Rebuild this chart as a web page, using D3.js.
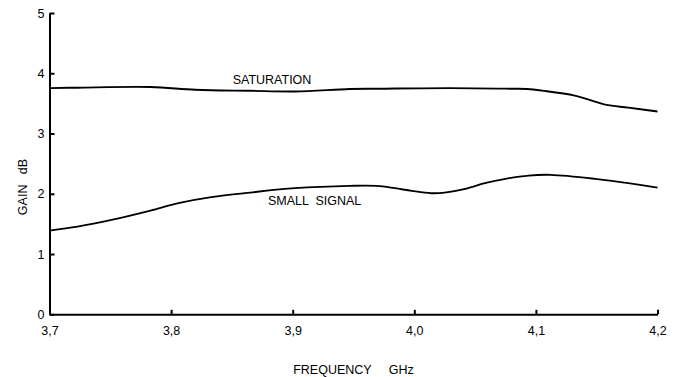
<!DOCTYPE html>
<html>
<head>
<meta charset="utf-8">
<script src="https://cdn.jsdelivr.net/npm/d3@7"></script>
<style>
  html, body { margin: 0; padding: 0; background: #fff; }
  svg { display: block; font-family: "Liberation Sans", Arial, sans-serif; }
  .axis path, .axis line { stroke: #000; stroke-width: 2; }
  .axis text { font-size: 12.5px; fill: #000; }
</style>
</head>
<body>
<svg id="chart" width="678" height="377"></svg>
<script>
// Gain versus frequency for the amplifier, two operating conditions.
const satFreq  = [3.700, 3.723, 3.783, 3.820, 3.865, 3.902, 3.947, 3.970, 4.029, 4.080, 4.093, 4.105, 4.132, 4.157, 4.176, 4.200];
const satGain  = [3.754, 3.760, 3.771, 3.726, 3.709, 3.698, 3.738, 3.743, 3.754, 3.743, 3.738, 3.712, 3.630, 3.480, 3.430, 3.365];

const smallFreq = [3.700, 3.723, 3.751, 3.783, 3.806, 3.833, 3.865, 3.902, 3.947, 3.969, 3.984, 3.998, 4.014, 4.025, 4.042, 4.058, 4.075, 4.094, 4.112, 4.149, 4.176, 4.200];
const smallGain = [1.389, 1.455, 1.566, 1.721, 1.844, 1.944, 2.020, 2.093, 2.131, 2.131, 2.093, 2.048, 2.010, 2.020, 2.081, 2.176, 2.248, 2.302, 2.314, 2.248, 2.176, 2.103];

const xTicks = [3.7, 3.8, 3.9, 4.0, 4.1, 4.2];
const xTickLabels = ["3,7", "3,8", "3,9", "4,0", "4,1", "4,2"];
const yTicks = [0, 1, 2, 3, 4, 5];

const svg = d3.select("#chart");
const margin = { left: 49.5, right: 20.5, top: 13, bottom: 62.7 };
const W = 678, H = 377;

const x = d3.scaleLinear().domain([3.7, 4.2]).range([margin.left, W - margin.right]);
const y = d3.scaleLinear().domain([0, 5]).range([H - margin.bottom, margin.top]);

// axes with ticks pointing into the plot
svg.append("g")
  .attr("class", "axis")
  .attr("transform", `translate(0,${y(0)})`)
  .call(d3.axisBottom(x)
    .tickValues(xTicks)
    .tickFormat((d, i) => xTickLabels[i])
    .tickSizeInner(-4.5)
    .tickSizeOuter(0)
    .tickPadding(12));

svg.append("g")
  .attr("class", "axis")
  .attr("transform", `translate(${x(3.7)},0)`)
  .call(d3.axisLeft(y)
    .tickValues(yTicks)
    .tickFormat(d3.format("d"))
    .tickSizeInner(-5)
    .tickSizeOuter(0)
    .tickPadding(5));

// curves
const line = d3.line()
  .x(d => x(d[0]))
  .y(d => y(d[1]))
  .curve(d3.curveCatmullRom.alpha(0.5));

const series = [
  d3.zip(satFreq, satGain),
  d3.zip(smallFreq, smallGain)
];

svg.append("g")
  .selectAll("path")
  .data(series)
  .join("path")
  .attr("d", line)
  .attr("fill", "none")
  .attr("stroke", "#000")
  .attr("stroke-width", 1.9)
  .attr("stroke-linejoin", "round");

// curve labels
svg.append("text")
  .attr("x", x(3.883)).attr("y", y(3.83))
  .attr("text-anchor", "middle")
  .attr("font-size", 12.5)
  .text("SATURATION");

svg.append("text")
  .attr("x", x(3.918)).attr("y", y(1.82))
  .attr("text-anchor", "middle")
  .attr("font-size", 12.5)
  .style("white-space", "pre")
  .text("SMALL  SIGNAL");

// axis titles
svg.append("text")
  .attr("transform", `translate(27,${187}) rotate(-90)`)
  .attr("text-anchor", "middle")
  .attr("font-size", 12.5)
  .style("white-space", "pre")
  .text("GAIN   dB");

svg.append("text")
  .attr("x", (x(3.7) + x(4.2)) / 2)
  .attr("y", 374)
  .attr("text-anchor", "middle")
  .attr("font-size", 12.5)
  .style("white-space", "pre")
  .text("FREQUENCY     GHz");
</script>
</body>
</html>
